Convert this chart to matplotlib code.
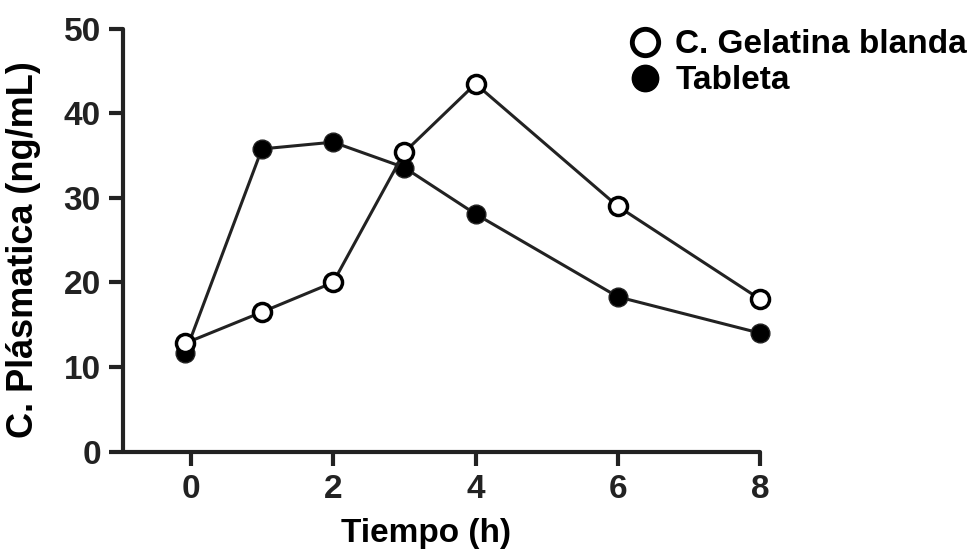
import matplotlib
matplotlib.use("Agg")
import matplotlib.pyplot as plt
from matplotlib.lines import Line2D

plt.rcParams['font.family'] = ['Liberation Sans', 'DejaVu Sans']
plt.rcParams['font.weight'] = 'bold'

# plasma concentration over time, two formulations
tiempo = [-0.08, 1, 2, 3, 4, 6, 8]
gelatina = [12.8, 16.5, 20.0, 35.4, 43.5, 29.0, 18.0]
tableta = [11.6, 35.8, 36.6, 33.6, 28.1, 18.3, 14.0]
xticks = [0, 2, 4, 6, 8]
yticks = [0, 10, 20, 30, 40, 50]

ink = '#222222'

fig = plt.figure(figsize=(9.69, 5.5), dpi=100)
ax = fig.add_axes([0.127, 0.179, 0.665, 0.7685])

ax.plot(tiempo, tableta, color=ink, lw=2.2, marker='o', ms=13.5,
        mfc='black', mec=ink, mew=1, clip_on=False, zorder=3)
ax.plot(tiempo, gelatina, color=ink, lw=2.2, marker='o', ms=13,
        mfc='white', mec='black', mew=2.5, clip_on=False, zorder=4)

ax.set_xlim(-0.95, 8.1)
ax.set_ylim(0, 50)
ax.set_xticks(xticks)
ax.set_yticks(yticks)

for side in ['top', 'right']:
    ax.spines[side].set_visible(False)
for side in ['left', 'bottom']:
    ax.spines[side].set_linewidth(3)
    ax.spines[side].set_color(ink)
    ax.spines[side].set_capstyle('round')
ax.spines['bottom'].set_bounds(-0.95, 8)

ax.tick_params(width=3, length=10, color=ink, labelsize=24,
               labelcolor=ink, pad=6)
for t in ax.xaxis.get_major_ticks() + ax.yaxis.get_major_ticks():
    t.tick1line.set_solid_capstyle('round')

ax.set_xlabel('Tiempo (h)', fontsize=24, fontweight='bold')
ax.xaxis.set_label_coords(0.47, -0.157)
ax.set_ylabel('C. Plásmatica (ng/mL)', fontsize=26, fontweight='bold')
ax.yaxis.set_label_coords(-0.127, 0.477)

handles = [
    Line2D([], [], ls='none', marker='o', ms=19, mfc='white', mec='black',
           mew=3.5),
    Line2D([], [], ls='none', marker='o', ms=19, mfc='black', mec='black'),
]
fig.legend(handles, ['C. Gelatina blanda', 'Tableta'], loc='upper left',
           bbox_to_anchor=(0.6245, 0.989), frameon=False, fontsize=24,
           handlelength=1.0, handletextpad=0.4, labelspacing=0.15,
           borderaxespad=0.3)

fig.savefig('out.png', dpi=100)
